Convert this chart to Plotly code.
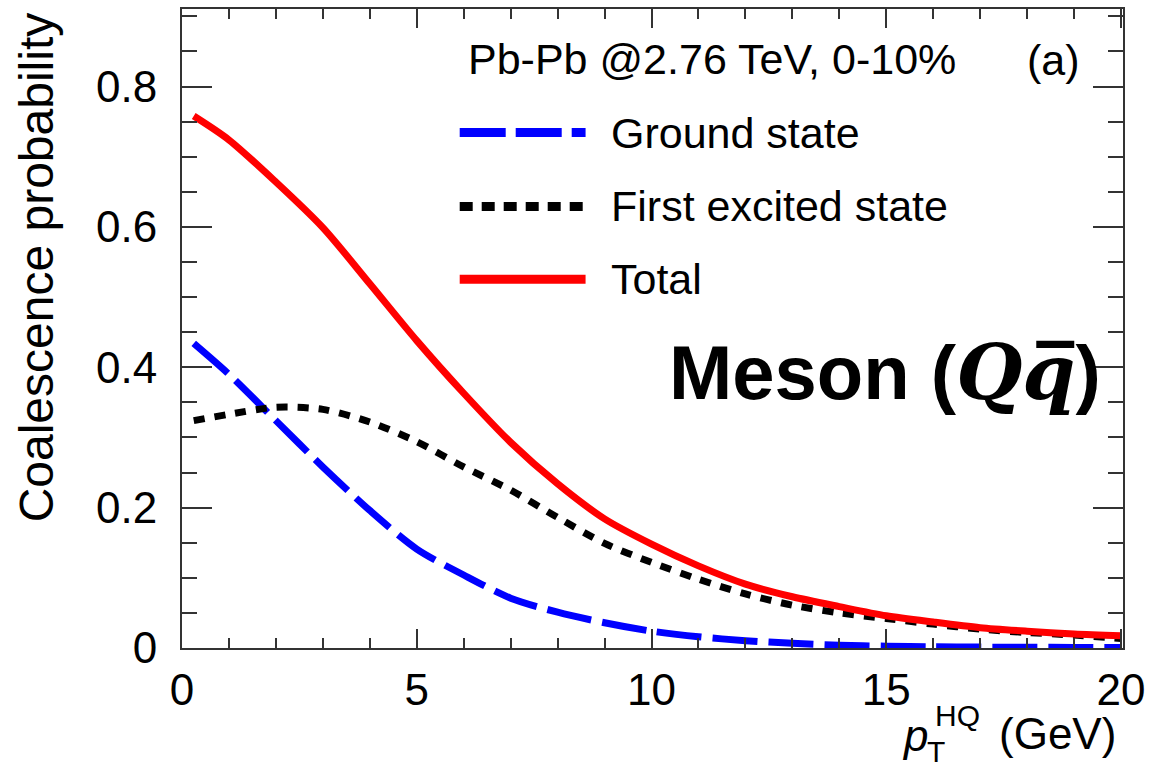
import plotly.graph_objects as go

# ---------------- data ----------------
pt_hq = [0.25, 1, 2, 3, 4, 5, 6, 7, 8, 9, 10, 11, 12, 13, 14, 15, 16, 17, 18, 19, 20]
ground_state = [0.434, 0.390, 0.324, 0.258, 0.196, 0.141, 0.104, 0.071, 0.051, 0.036,
                0.024, 0.016, 0.0104, 0.0067, 0.0040, 0.0026, 0.0018, 0.0013, 0.0010,
                0.0008, 0.0006]
first_excited = [0.324, 0.333, 0.343, 0.340, 0.322, 0.294, 0.258, 0.225, 0.186, 0.149,
                 0.122, 0.098, 0.077, 0.061, 0.050, 0.042, 0.034, 0.027, 0.022, 0.0185,
                 0.0135]
total = [0.758, 0.724, 0.664, 0.599, 0.519, 0.438, 0.363, 0.293, 0.234, 0.184,
         0.148, 0.117, 0.091, 0.073, 0.059, 0.046, 0.037, 0.029, 0.024, 0.020, 0.0175]

series_names = ["Ground state", "First excited state", "Total"]
header_text = "Pb-Pb @2.76 TeV, 0-10%"
panel_label = "(a)"
y_title = "Coalescence probability"
x_ticks = [0, 5, 10, 15, 20]
y_ticks = [0, 0.2, 0.4, 0.6, 0.8]

# ---------------- layout geometry ----------------
W, H = 1152, 771
L, R, T, B = 182, 28, 7, 123
PW, PH = W - L - R, H - T - B
XMAX = PW / 47.0
YMAX = PH / 704.0


def fx(p):  # pixel x -> paper x
    return (p - L) / PW


def fy(p):  # pixel y -> paper y
    return (H - B - p) / PH


FONT = "Liberation Sans, Arial, Helvetica, sans-serif"
BLUE, RED, BLACK = "#0000FF", "#FF0000", "#000000"
AXC = "#333333"

fig = go.Figure()

fig.add_trace(go.Scatter(x=pt_hq, y=ground_state, mode="lines", name=series_names[0],
                         line=dict(color=BLUE, width=7, dash="45px,11px", shape="spline",
                                   smoothing=0.8),
                         showlegend=False))
fig.add_trace(go.Scatter(x=pt_hq, y=first_excited, mode="lines", name=series_names[1],
                         line=dict(color=BLACK, width=7, dash="11px,10px", shape="spline",
                                   smoothing=0.8),
                         showlegend=False))
fig.add_trace(go.Scatter(x=pt_hq, y=total, mode="lines", name=series_names[2],
                         line=dict(color=RED, width=7, shape="spline", smoothing=0.8),
                         showlegend=False))
# invisible carrier trace so the mirrored (top/right) minor-tick axes are drawn
fig.add_trace(go.Scatter(x=pt_hq, y=total, mode="lines", xaxis="x2", yaxis="y2",
                         opacity=0, hoverinfo="skip", showlegend=False,
                         line=dict(width=0)))

axis_common = dict(showgrid=False, zeroline=False, showline=True, linecolor=AXC,
                   linewidth=2, mirror="allticks", ticks="inside", tickcolor=AXC,
                   tickwidth=2, tickfont=dict(family=FONT, size=44, color="black"))

fig.update_layout(
    xaxis=dict(range=[0, XMAX], tickvals=x_ticks, ticklen=19,
               minor=dict(dtick=1, ticklen=10, ticks="inside", tickcolor=AXC,
                          tickwidth=2, showgrid=False),
               ticklabelstandoff=2, **axis_common),
    yaxis=dict(range=[0, YMAX], tickvals=y_ticks, ticklen=30,
               minor=dict(dtick=0.05, ticklen=15, ticks="inside", tickcolor=AXC,
                          tickwidth=2, showgrid=False),
               ticklabelstandoff=14, **axis_common),
    xaxis2=dict(range=[0, XMAX], overlaying="x", side="top", anchor="y2",
                tickmode="linear", tick0=0, dtick=1, ticks="inside", ticklen=10,
                tickwidth=2, tickcolor=AXC, showticklabels=False, showline=False,
                showgrid=False, zeroline=False),
    yaxis2=dict(range=[0, YMAX], overlaying="y", side="right", anchor="x2",
                tickmode="linear", tick0=0, dtick=0.05, ticks="inside", ticklen=15,
                tickwidth=2, tickcolor=AXC, showticklabels=False, showline=False,
                showgrid=False, zeroline=False),
)

annotations = []


def ann(text, x, y, size=44, xanchor="left", yanchor="middle", textangle=0, font=FONT):
    annotations.append(dict(text=text, x=fx(x), y=fy(y), xref="paper", yref="paper",
                            showarrow=False, xanchor=xanchor, yanchor=yanchor,
                            textangle=textangle,
                            font=dict(family=font, size=size, color="black")))


# header + panel label
ann(header_text, 466, 57, size=43)
ann(panel_label, 1054, 58, size=43, xanchor="center")

# legend entries
legend_rows = [131, 205, 278]
for name, yrow in zip(series_names, legend_rows):
    ann(name, 609, yrow, size=43)

shapes = [
    dict(type="line", xref="paper", yref="paper", x0=fx(460), x1=fx(586), y0=fy(131),
         y1=fy(131), line=dict(color=BLUE, width=9, dash="46px,10px")),
    dict(type="line", xref="paper", yref="paper", x0=fx(460), x1=fx(584), y0=fy(205),
         y1=fy(205), line=dict(color=BLACK, width=9, dash="13px,9px")),
    dict(type="line", xref="paper", yref="paper", x0=fx(460), x1=fx(586), y0=fy(278),
         y1=fy(278), line=dict(color=RED, width=9)),
]

# big label
annotations.append(dict(
    text="<b>Meson (</b><span style=\"font-family:'DejaVu Serif'\"><b><i>Q</i></b>"
         "<b><i>q\u0305</i></b></span><b>)</b>",
    x=fx(886), y=fy(372), xref="paper", yref="paper", showarrow=False,
    xanchor="center", yanchor="middle",
    font=dict(family=FONT, size=76, color="black")))

# y axis title
ann(y_title, 36, 266, size=48, xanchor="center", textangle=-90)

# x axis title pieces
ann("<i>p</i>", 916, 736, size=44, xanchor="center")
ann("HQ", 958, 716, size=30, xanchor="center")
ann("T", 937, 752, size=30, xanchor="center")
ann("(GeV)", 1058, 734, size=44, xanchor="center")

fig.update_layout(width=W, height=H, margin=dict(l=L, r=R, t=T, b=B),
                  paper_bgcolor="white", plot_bgcolor="white",
                  annotations=annotations, shapes=shapes, showlegend=False,
                  font=dict(family=FONT, color="black"))

fig.write_html("out.html")
